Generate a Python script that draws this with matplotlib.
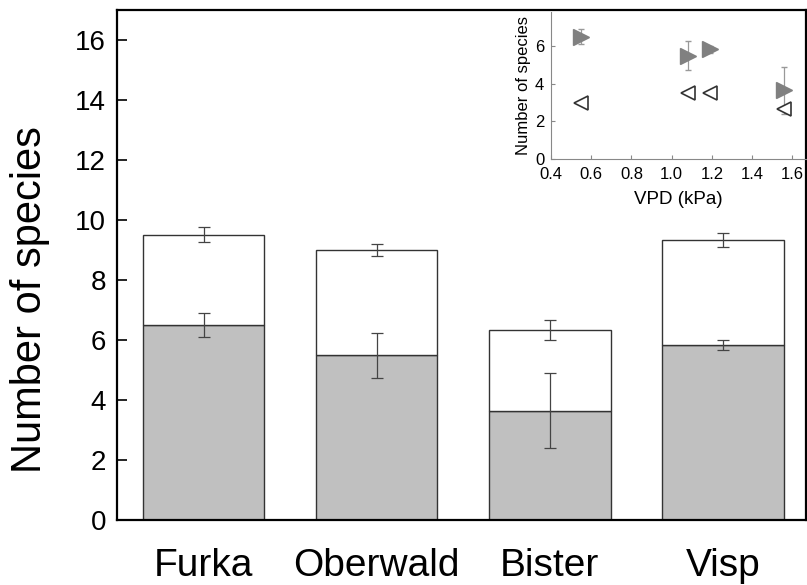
import matplotlib.pyplot as plt

plt.rcParams['font.family'] = ['Liberation Sans', 'DejaVu Sans']

sites = ['Furka', 'Oberwald', 'Bister', 'Visp']
grey_mean = [6.5, 5.5, 3.65, 5.83]
grey_err = [0.4, 0.75, 1.25, 0.17]
total_mean = [9.5, 9.0, 6.33, 9.33]
total_err = [0.25, 0.2, 0.33, 0.22]
white_mean = [3.0, 3.5, 2.68, 3.5]
vpd = [0.55, 1.08, 1.56, 1.19]

fig = plt.figure(figsize=(8.07, 5.85), dpi=100)
ax = fig.add_axes([0.145, 0.111, 0.854, 0.872])

xs = list(range(len(sites)))
white_part = [t - g for t, g in zip(total_mean, grey_mean)]

ax.bar(xs, grey_mean, width=0.7, color='#c0c0c0', edgecolor='#333333', linewidth=1)
ax.bar(xs, white_part, bottom=grey_mean, width=0.7, color='white', edgecolor='#333333', linewidth=1)
ax.errorbar(xs, total_mean, yerr=total_err, fmt='none', ecolor='#444444', elinewidth=0.9, capsize=4, capthick=0.9)
ax.errorbar(xs, grey_mean, yerr=grey_err, fmt='none', ecolor='#444444', elinewidth=0.9, capsize=4, capthick=0.9)

ax.set_xlim(-0.5, 3.48)
ax.set_ylim(0, 17)
ax.set_yticks(range(0, 17, 2))
ax.set_xticks(xs)
ax.set_xticklabels(sites, fontsize=28)
ax.tick_params(axis='x', length=0, pad=20)
ax.tick_params(axis='y', direction='in', length=7, width=1.2, labelsize=20, pad=8)
ax.set_ylabel('Number of species', fontsize=30)
ax.yaxis.set_label_coords(-0.097, 0.433)
for s in ax.spines.values():
    s.set_linewidth(1.6)

# inset
ins = fig.add_axes([0.683, 0.728, 0.316, 0.251])
ins.patch.set_alpha(0)
ins.errorbar(vpd, grey_mean, yerr=grey_err, fmt='>', color='#808080', ms=11,
             ecolor='#999999', elinewidth=0.9, capsize=2, mec='#808080')
ins.plot(vpd, white_mean, '<', ms=10, mfc='white', mec='#333333', mew=1.2, ls='none')
ins.set_xlim(0.4, 1.67)
ins.set_ylim(0, 7.8)
ins.set_xticks([0.4, 0.6, 0.8, 1.0, 1.2, 1.4, 1.6])
ins.set_yticks([0, 2, 4, 6])
ins.spines['top'].set_visible(False)
ins.spines['right'].set_visible(False)
ins.spines['left'].set_color('#888888')
ins.spines['bottom'].set_color('#888888')
ins.tick_params(direction='in', length=3, color='#888888', labelsize=12)
ins.tick_params(axis='x', pad=6)
ins.tick_params(axis='y', pad=5)
ins.set_xlabel('VPD (kPa)', fontsize=13.5, labelpad=6)
ins.set_ylabel('Number of species', fontsize=12, labelpad=3)

fig.savefig('out.png', dpi=100)
